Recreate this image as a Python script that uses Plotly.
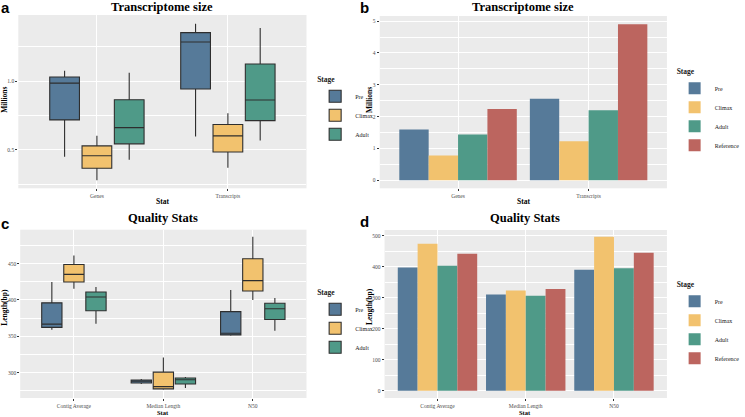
import plotly.graph_objects as go

W, H = 745, 417

stages = ["Pre", "Climax", "Adult"]
stages_bar = ["Pre", "Climax", "Adult", "Reference"]
colors = {"Pre": "#567A99", "Climax": "#F2C26E", "Adult": "#4F9A88", "Reference": "#BC655F"}

# Panel a: Transcriptome size boxplots (millions)
cats_a = ["Genes", "Transcripts"]
box_a = {
    "Pre":    dict(lo=[0.451, 0.597], q1=[0.718, 0.942], med=[0.985, 1.284], q3=[1.030, 1.352], hi=[1.075, 1.417]),
    "Climax": dict(lo=[0.279, 0.371], q1=[0.367, 0.485], med=[0.458, 0.602], q3=[0.529, 0.684], hi=[0.602, 0.767]),
    "Adult":  dict(lo=[0.429, 0.568], q1=[0.544, 0.713], med=[0.662, 0.862], q3=[0.864, 1.124], hi=[1.060, 1.386]),
}

# Panel b: Transcriptome size bars (millions)
cats_b = ["Genes", "Transcripts"]
bar_b = {
    "Pre": [1.60, 2.56],
    "Climax": [0.78, 1.23],
    "Adult": [1.44, 2.20],
    "Reference": [2.24, 4.90],
}

# Panel c: Quality stats boxplots (bp)
cats_c = ["Contig Average", "Median Length", "N50"]
box_c = {
    "Pre":    dict(lo=[359.2, 284.6, 351.0], q1=[362.4, 286.0, 352.0], med=[366.8, 288.3, 354.3], q3=[396.1, 290.0, 384.0], hi=[424.8, 291.4, 413.6]),
    "Climax": dict(lo=[415.4, 276.5, 400.1], q1=[424.8, 277.9, 412.3], med=[435.2, 281.0, 426.6], q3=[448.7, 300.8, 456.7], hi=[461.2, 321.0, 486.8]),
    "Adult":  dict(lo=[367.3, 279.0, 357.8], q1=[385.3, 284.6, 373.2], med=[404.2, 290.4, 388.0], q3=[410.9, 292.7, 395.6], hi=[418.0, 294.1, 402.8]),
}

# Panel d: Quality stats bars (bp)
cats_d = ["Contig Average", "Median Length", "N50"]
bar_d = {
    "Pre": [397.7, 310.8, 391.0],
    "Climax": [474.8, 323.5, 497.0],
    "Adult": [404.0, 306.7, 395.5],
    "Reference": [442.0, 329.0, 446.0],
}

fig = go.Figure()

def add_boxes(data, cats, xa, ya, leg):
    for s in stages:
        d = data[s]
        fig.add_trace(go.Box(
            x=cats, q1=d["q1"], median=d["med"], q3=d["q3"],
            lowerfence=d["lo"], upperfence=d["hi"],
            name=s, fillcolor=colors[s], line=dict(color="#2E2E2E", width=1.1),
            whiskerwidth=0, boxpoints=False, xaxis=xa, yaxis=ya, legend=leg,
            hoverinfo="skip", offsetgroup=s,
        ))

def add_bars(data, cats, xa, ya, leg):
    for s in stages_bar:
        fig.add_trace(go.Bar(
            x=cats, y=data[s], name=s, marker=dict(color=colors[s], line=dict(width=0)),
            xaxis=xa, yaxis=ya, legend=leg, hoverinfo="skip", offsetgroup=s,
        ))

add_boxes(box_a, cats_a, "x", "y", "legend")
add_bars(bar_b, cats_b, "x2", "y2", "legend2")
add_boxes(box_c, cats_c, "x3", "y3", "legend3")
add_bars(bar_d, cats_d, "x4", "y4", "legend4")

def px_x(a, b):
    return [a / W, b / W]

def px_y(top, bot):
    return [1 - bot / H, 1 - top / H]

tickfont = dict(family="Liberation Serif", size=5.5, color="#4D4D4D")
common_x = dict(type="category", showgrid=True, gridcolor="white", gridwidth=1, zeroline=False,
                ticks="outside", ticklen=2, tickwidth=0.6, tickcolor="#333333", tickfont=tickfont,
                showline=False, fixedrange=True)
common_y = dict(showgrid=True, gridcolor="white", gridwidth=1, zeroline=False,
                ticks="outside", ticklen=2, tickwidth=0.6, tickcolor="#333333", tickfont=tickfont,
                showline=False, fixedrange=True)

def minor(t0, dt):
    return dict(tick0=t0, dtick=dt, showgrid=True, gridcolor="white", gridwidth=0.5, ticks="")

fig.update_layout(
    width=W, height=H, margin=dict(l=0, r=0, t=0, b=0),
    paper_bgcolor="white", plot_bgcolor="#EBEBEB",
    boxmode="group", boxgap=0.26, boxgroupgap=0.08,
    barmode="group", bargap=0.1, bargroupgap=0,
    showlegend=True,
    xaxis=dict(common_x, domain=px_x(19, 318), range=[-0.6, 1.6], anchor="y"),
    yaxis=dict(common_y, domain=px_y(15, 188.3), range=[0.221, 1.48], tickvals=[0.5, 1.0],
               ticktext=["0.5", "1.0"], minor=minor(0.25, 0.5), anchor="x"),
    xaxis2=dict(common_x, domain=px_x(394, 692), range=[-0.6, 1.6], anchor="y2"),
    yaxis2=dict(common_y, domain=px_y(16, 188.3), range=[-0.25, 5.16], tickvals=[0, 1, 2, 3, 4, 5],
                minor=minor(0.5, 1), anchor="x2"),
    xaxis3=dict(common_x, domain=px_x(21, 318), range=[-0.6, 2.6], anchor="y3"),
    yaxis3=dict(common_y, domain=px_y(229.7, 398), range=[265.3, 496.6], tickvals=[300, 350, 400, 450],
                minor=minor(275, 50), anchor="x3"),
    xaxis4=dict(common_x, domain=px_x(399, 692), range=[-0.6, 2.6], anchor="y4"),
    yaxis4=dict(common_y, domain=px_y(230, 398), range=[-23, 519], tickvals=[0, 100, 200, 300, 400, 500],
                minor=minor(50, 100), anchor="x4"),
)

legfont = dict(family="Liberation Serif", size=6, color="#1A1A1A")
legtitle = dict(text="<b>Stage</b>", font=dict(family="Liberation Serif", size=7.5, color="#1A1A1A"))
def leg(xp, yp):
    return dict(x=xp / W, y=1 - yp / H, xanchor="left", yanchor="top", font=legfont, title=legtitle,
                bgcolor="rgba(0,0,0,0)", itemwidth=30, tracegroupgap=0, traceorder="normal")

fig.update_layout(
    legend=leg(327, 72),
    legend2=leg(700, 64),
    legend3=leg(327, 285),
    legend4=leg(700, 277),
)

ann = []
def text(x, y, t, size, family="Liberation Serif", bold=True, angle=0, color="#000000",
         xanchor="center", yanchor="middle"):
    ann.append(dict(x=x / W, y=1 - y / H, xref="paper", yref="paper", text=(f"<b>{t}</b>" if bold else t),
                    showarrow=False, xanchor=xanchor, yanchor=yanchor, textangle=angle, borderpad=0,
                    font=dict(family=family, size=size, color=color)))

# titles
text(168.5, 7, "Transcriptome size", 12.5)
text(542.5, 7, "Transcriptome size", 12.5)
text(169, 218, "Quality Stats", 12.5)
text(545, 218, "Quality Stats", 12.5)
# panel letters
text(0, 7, "a", 15, family="Liberation Sans", xanchor="left")
text(372, 7, "b", 15, family="Liberation Sans", xanchor="left")
text(0, 223, "c", 15, family="Liberation Sans", xanchor="left")
text(372, 221, "d", 15, family="Liberation Sans", xanchor="left")
# axis titles
text(168.5, 201, "Stat", 7.5)
text(543, 201, "Stat", 7.5)
text(169, 417, "Stat", 6.5, yanchor="bottom")
text(545, 417, "Stat", 6.5, yanchor="bottom")
text(4, 100, "Millions", 7.5, angle=-90)
text(383, 100, "Millions", 7.5, angle=-90)
text(4, 307, "Length(bp)", 7.5, angle=-90)
text(383, 307, "Length(bp)", 7.5, angle=-90)

fig.update_layout(annotations=ann)

fig.write_html("out.html")
